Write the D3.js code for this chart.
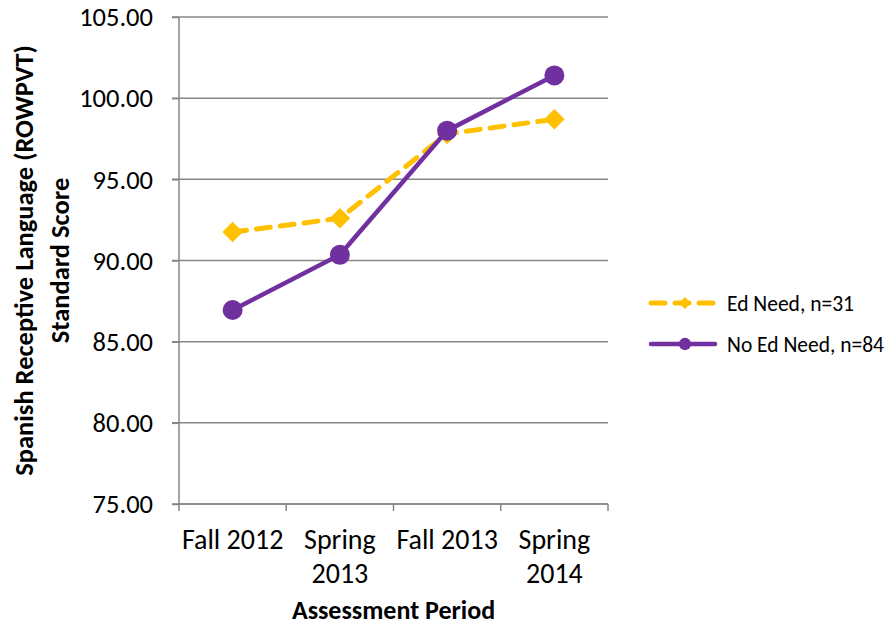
<!DOCTYPE html>
<html>
<head>
<meta charset="utf-8">
<script src="https://cdn.jsdelivr.net/npm/d3@7"></script>
<style>
  body { margin: 0; background: #fff; }
  text { font-family: Calibri, Carlito, 'Open Sans', sans-serif; fill: #000; }
</style>
</head>
<body>
<div id="chart"></div>
<script>
const periods = ['Fall 2012', 'Spring 2013', 'Fall 2013', 'Spring 2014']
const periodLines = [['Fall 2012'], ['Spring', '2013'], ['Fall 2013'], ['Spring', '2014']]
const edNeed = [91.75, 92.6, 97.8, 98.7]
const noEdNeed = [86.95, 90.35, 98.0, 101.4]
const yTicks = [75, 80, 85, 90, 95, 100, 105]
const seriesNames = ['Ed Need, n=31', 'No Ed Need, n=84']

const svg = d3.select('#chart').append('svg')
  .attr('width', 886)
  .attr('height', 629)

// plot box in pixels
const margin = {left: 179, right: 278, top: 17, bottom: 125}
const width = 886 - margin.left - margin.right
const height = 629 - margin.top - margin.bottom

const x = d3.scaleBand().domain(periods).range([0, width])
const y = d3.scaleLinear().domain([75, 105]).range([height, 0])

const chart = svg.append('g').attr('transform', `translate(${margin.left},${margin.top})`)

// gridlines
chart.append('g').selectAll('line')
  .data(yTicks)
  .enter().append('line')
  .attr('x1', -7).attr('x2', width)
  .attr('y1', d => y(d)).attr('y2', d => y(d))
  .attr('stroke', '#868686').attr('stroke-width', 1.5)

// y axis
const yAxis = chart.append('g')
  .call(d3.axisLeft(y).tickValues(yTicks).tickFormat(d3.format('.2f')).tickSize(7).tickPadding(19))
yAxis.select('.domain').attr('stroke', '#868686').attr('stroke-width', 1.5).attr('d', `M0,0V${height}`)
yAxis.selectAll('.tick line').attr('stroke', '#868686').attr('stroke-width', 1.5)
yAxis.selectAll('.tick text').attr('font-size', 26.5).attr('dy', '0.33em')
  .style('font-family', "Calibri, Carlito, 'Open Sans', sans-serif")

// x axis
const xAxis = chart.append('g').attr('transform', `translate(0,${height})`)
  .call(d3.axisBottom(x).tickSize(0).tickFormat(''))
xAxis.select('.domain').attr('stroke', '#868686').attr('stroke-width', 1.5).attr('d', `M0,0H${width}`)
xAxis.selectAll('.xt')
  .data(d3.range(periods.length + 1))
  .enter().append('line')
  .attr('x1', i => i * x.step()).attr('x2', i => i * x.step())
  .attr('y1', 0).attr('y2', 7)
  .attr('stroke', '#868686').attr('stroke-width', 1.5)
xAxis.selectAll('.xl')
  .data(periods)
  .enter().append('text')
  .attr('text-anchor', 'middle')
  .attr('font-size', 28)
  .attr('transform', d => `translate(${x(d) + x.bandwidth() / 2},45)`)
  .each(function(d, i) {
    d3.select(this).selectAll('tspan')
      .data(periodLines[i])
      .enter().append('tspan')
      .attr('x', 0)
      .attr('dy', (t, j) => j ? 34 : 0)
      .text(t => t)
  })

// axis titles
svg.append('text')
  .attr('x', margin.left + width / 2).attr('y', 619)
  .attr('text-anchor', 'middle')
  .attr('font-size', 26).attr('font-weight', 'bold')
  .text('Assessment Period')
svg.append('text')
  .attr('transform', `translate(33,${margin.top + height / 2}) rotate(-90)`)
  .attr('text-anchor', 'middle')
  .attr('font-size', 26.5).attr('font-weight', 'bold')
  .selectAll('tspan')
  .data(['Spanish Receptive Language (ROWPVT)', 'Standard Score'])
  .enter().append('tspan')
  .attr('x', 0)
  .attr('dy', (d, i) => i ? 36 : 0)
  .text(d => d)

const line = d3.line().x((d, i) => x(periods[i]) + x.bandwidth() / 2).y(d => y(d))

// Ed Need series
chart.append('path')
  .datum(edNeed)
  .attr('d', line)
  .attr('fill', 'none')
  .attr('stroke', '#FFC000').attr('stroke-width', 5)
  .attr('stroke-dasharray', '14,10')
  .attr('stroke-linecap', 'round')
chart.append('g').selectAll('path')
  .data(edNeed)
  .enter().append('path')
  .attr('d', d3.symbol().type(d3.symbolSquare).size(210))
  .attr('transform', (d, i) => `translate(${x(periods[i]) + x.bandwidth() / 2},${y(d)}) rotate(45)`)
  .attr('fill', '#FFC000')

// No Ed Need series
chart.append('path')
  .datum(noEdNeed)
  .attr('d', line)
  .attr('fill', 'none')
  .attr('stroke', '#7030A0').attr('stroke-width', 4.5)
chart.append('g').selectAll('circle')
  .data(noEdNeed)
  .enter().append('circle')
  .attr('cx', (d, i) => x(periods[i]) + x.bandwidth() / 2)
  .attr('cy', d => y(d))
  .attr('r', 10)
  .attr('fill', '#7030A0')

// legend
const legend = svg.append('g').attr('transform', 'translate(650,0)')
const items = legend.selectAll('g')
  .data(seriesNames)
  .enter().append('g')
  .attr('transform', (d, i) => `translate(0,${303 + i * 41})`)
items.append('line')
  .attr('x1', 1).attr('x2', 65)
  .attr('stroke', (d, i) => i ? '#7030A0' : '#FFC000')
  .attr('stroke-width', (d, i) => i ? 4.5 : 5)
  .attr('stroke-dasharray', (d, i) => i ? null : '14,10')
  .attr('stroke-linecap', 'round')
items.append('path')
  .attr('d', (d, i) => i ? d3.symbol().type(d3.symbolCircle).size(120)() : d3.symbol().type(d3.symbolSquare).size(70)())
  .attr('transform', (d, i) => `translate(35,0) rotate(${i ? 0 : 45})`)
  .attr('fill', (d, i) => i ? '#7030A0' : '#FFC000')
items.append('text')
  .attr('x', 77).attr('dy', '0.35em')
  .attr('font-size', 21.5)
  .text(d => d)
</script>
</body>
</html>
